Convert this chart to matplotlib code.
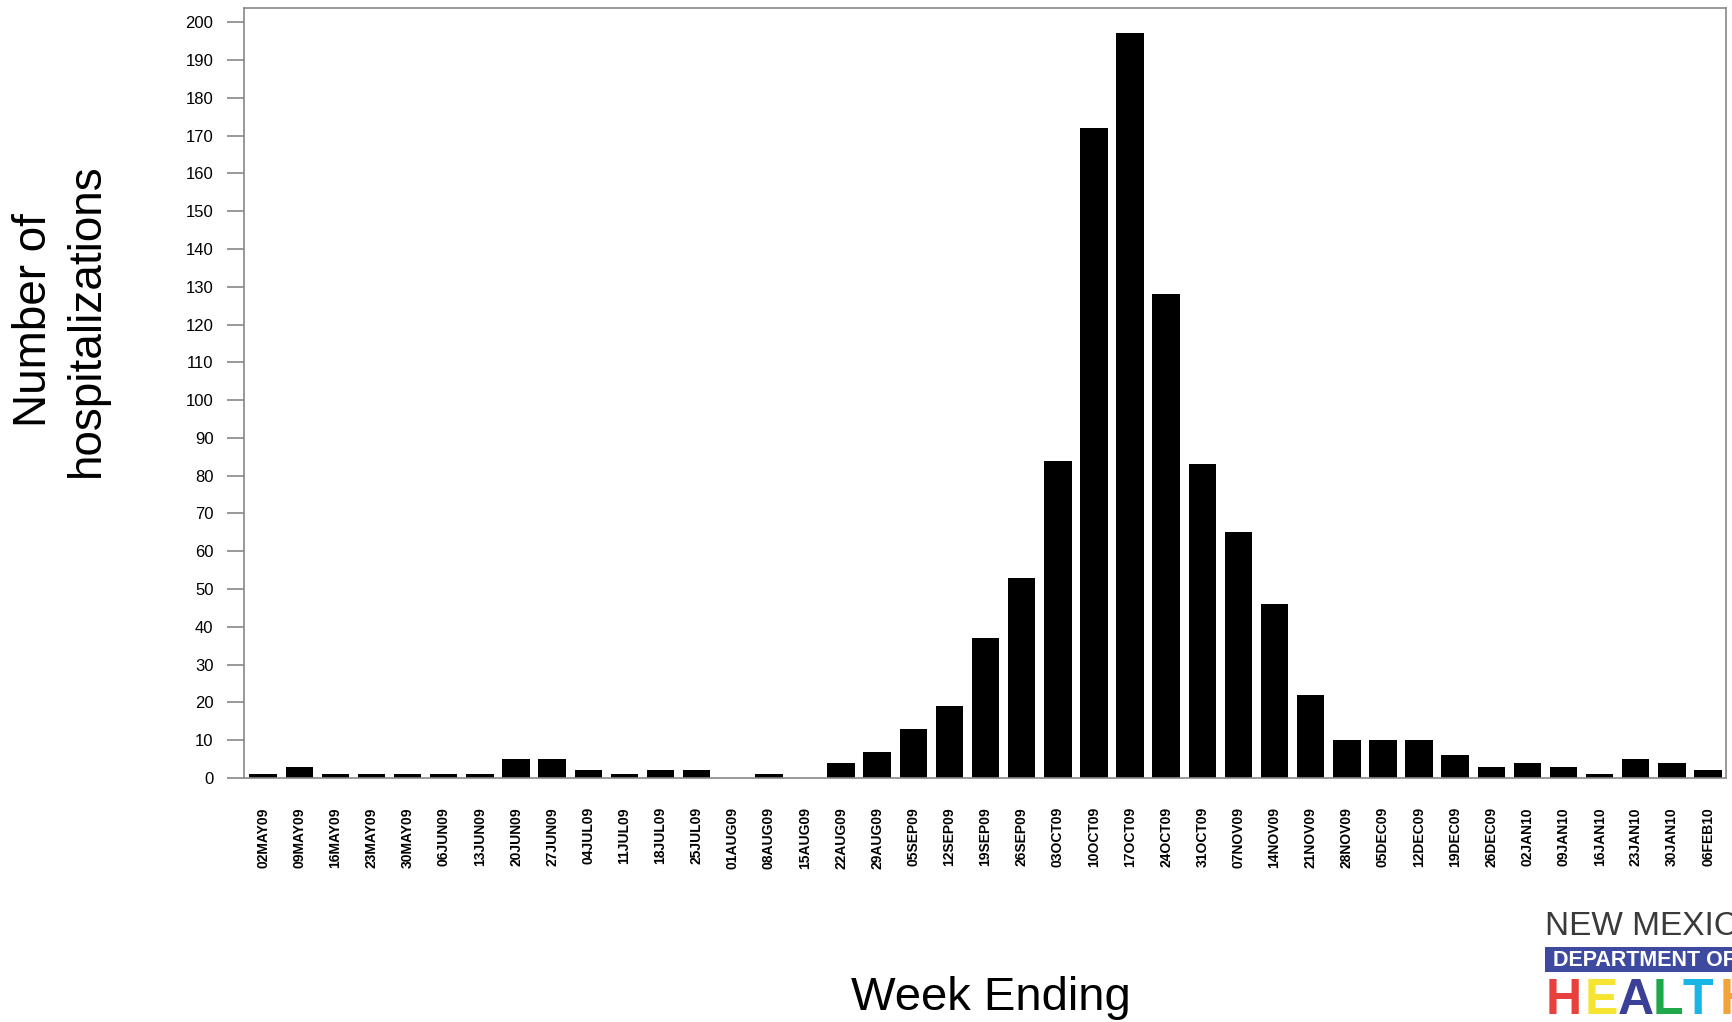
import matplotlib.pyplot as plt
import numpy as np

plt.rcParams['font.family'] = ['Liberation Sans', 'DejaVu Sans']

# Semanas (fim da semana) e número de hospitalizações
semanas = ["02MAY09", "09MAY09", "16MAY09", "23MAY09", "30MAY09", "06JUN09", "13JUN09",
           "20JUN09", "27JUN09", "04JUL09", "11JUL09", "18JUL09", "25JUL09", "01AUG09",
           "08AUG09", "15AUG09", "22AUG09", "29AUG09", "05SEP09", "12SEP09", "19SEP09",
           "26SEP09", "03OCT09", "10OCT09", "17OCT09", "24OCT09", "31OCT09", "07NOV09",
           "14NOV09", "21NOV09", "28NOV09", "05DEC09", "12DEC09", "19DEC09", "26DEC09",
           "02JAN10", "09JAN10", "16JAN10", "23JAN10", "30JAN10", "06FEB10"]
hospitalizacoes = [1, 3, 1, 1, 1, 1, 1, 5, 5, 2, 1, 2, 2, 0, 1, 0, 4, 7, 13, 19, 37,
                   53, 84, 172, 197, 128, 83, 65, 46, 22, 10, 10, 10, 6, 3, 4, 3, 1, 5, 4, 2]
y_ticks = list(range(0, 201, 10))

fig = plt.figure(figsize=(17.33, 10.22), dpi=100)
ax = fig.add_axes([0.1408, 0.2387, 0.8552, 0.7533])

x = np.arange(len(semanas))
ax.bar(x, hospitalizacoes, width=0.76, color='black')

ax.set_xlim(-0.53, len(semanas) - 0.5)
ax.set_ylim(0, 203.7)
ax.set_yticks(y_ticks)
ax.set_yticklabels([str(v) for v in y_ticks], fontsize=12)
ax.set_xticks(x)
ax.set_xticklabels(semanas, rotation=90, fontsize=10, fontweight='bold')

for lado in ['left', 'right', 'top', 'bottom']:
    ax.spines[lado].set_color('#888888')
    ax.spines[lado].set_linewidth(1.2)
ax.tick_params(axis='y', length=12, width=1.2, color='#888888', pad=10)
ax.tick_params(axis='x', length=0, pad=21)

fig.text(0.035, 0.687, "Number of\nhospitalizations", rotation=90, fontsize=33,
         ha='center', va='center', linespacing=1.25)
fig.text(0.572, 0.0235, "Week Ending", fontsize=34, ha='center', va='center')

# Logo (cortado na borda direita/inferior)
fig.text(1545 / 1733, 1 - 926 / 1022, "NEW MEXICO", fontsize=24, color='#3a3a3a',
         ha='left', va='center')
fig.patches.append(plt.Rectangle((1545 / 1733, 1 - 972 / 1022), 0.2, 25 / 1022,
                                 transform=fig.transFigure, facecolor='#3d4aa0',
                                 edgecolor='none'))
fig.text(1553 / 1733, 1 - 960 / 1022, "DEPARTMENT OF HEALTH", fontsize=15.5, color='white',
         weight='bold', ha='left', va='center')
cores_logo = ['#e8403c', '#f5e431', '#3a3f98', '#1fa84a', '#19b5e6', '#f2a33a']
centros_letras = [1564, 1601, 1636, 1668, 1698, 1738]
for letra, cor, cx in zip("HEALTH", cores_logo, centros_letras):
    fig.text(cx / 1733, 1 - 978 / 1022, letra, fontsize=36, color=cor, weight='bold',
             ha='center', va='top')

fig.savefig("out.png", dpi=100)
